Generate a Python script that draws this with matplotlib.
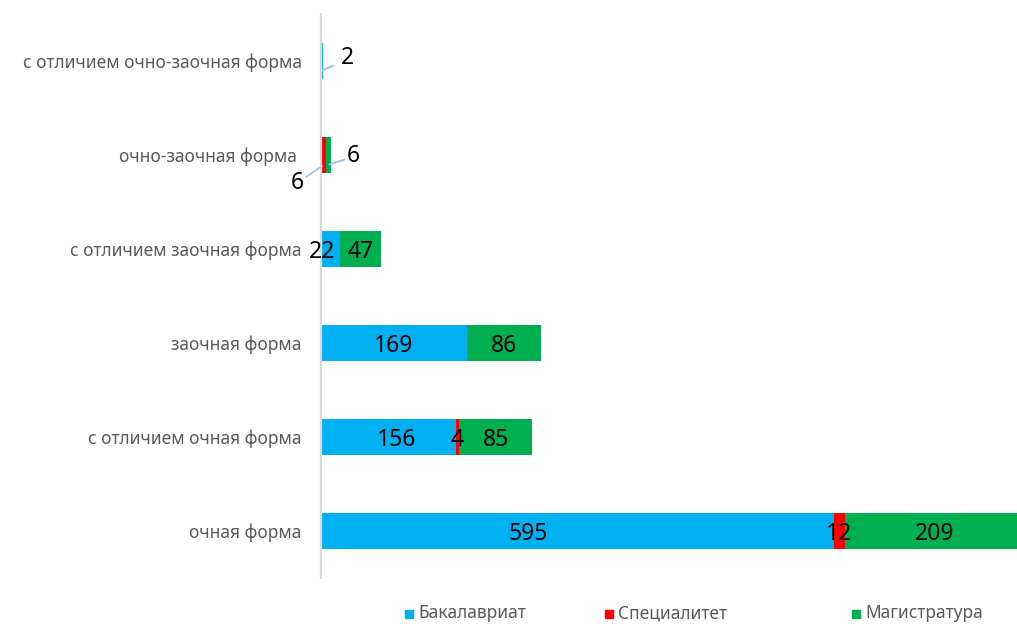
import matplotlib.pyplot as plt
from matplotlib.patches import Rectangle
import numpy as np

plt.rcParams['font.family'] = ['Noto Sans', 'DejaVu Sans']

# data (bottom to top)
categories = ["очная форма", "с отличием очная форма", "заочная форма",
              "с отличием заочная форма", "очно-заочная форма ",
              "с отличием очно-заочная форма"]
bachelor = [595, 156, 169, 22, 0, 2]
specialist = [12, 4, 0, 0, 6, 0]
master = [209, 85, 86, 47, 6, 0]

series_names = ["Бакалавриат", "Специалитет", "Магистратура"]
colors = ["#00B0F0", "#FF0000", "#00B050"]

# label nudges (data units) to mimic where Excel put them
label_shift = {(0, 0): -57, (0, 1): 10, (0, 3): -10}

fig = plt.figure(figsize=(10.17, 6.24), dpi=100)
ax = fig.add_axes([321 / 1017, 46 / 624, 1 - 321 / 1017, 564 / 624])

y = np.arange(len(categories))
left = np.zeros(len(categories))
bars = []
for k, (vals, c, name) in enumerate(zip([bachelor, specialist, master], colors, series_names)):
    vals = np.array(vals, dtype=float)
    b = ax.barh(y, vals, left=left, height=0.39, color=c, label=name, zorder=2)
    bars.append(b)
    for i, v in enumerate(vals):
        if v > 0 and i < 4:
            ax.text(left[i] + v / 2 + label_shift.get((k, i), 0), y[i] - 0.03,
                    f"{int(v)}", ha="center", va="center", fontsize=16.5,
                    color="black", zorder=4)
    left += vals

# labels with leader lines for the tiny bars
lc = "#9DC3E6"
ax.plot([1.5, 14], [4.9, 4.95], color=lc, lw=1.3, clip_on=False, zorder=3)
ax.text(31, 5.03, "2", fontsize=16.5, ha="center", va="center")
ax.plot([10, 27], [3.9, 3.95], color=lc, lw=1.3, clip_on=False, zorder=3)
ax.text(37, 3.99, "6", fontsize=16.5, ha="center", va="center")
ax.plot([1, -17], [3.88, 3.77], color=lc, lw=1.3, clip_on=False, zorder=3)
ax.text(-27, 3.7, "6", fontsize=16.5, ha="center", va="center")

ax.set_xlim(0, 807)
ax.set_ylim(-0.5, 5.5)
ax.set_yticks(y)
ax.set_yticklabels(categories, fontsize=12.5, color="#595959")
ax.tick_params(axis="y", length=0, pad=14)
ax.set_xticks([])
for s in ["top", "right", "bottom"]:
    ax.spines[s].set_visible(False)
ax.spines["left"].set_color("#D9D9D9")
ax.spines["left"].set_linewidth(1.6)
ax.spines["left"].set_zorder(3)

# legend along the bottom edge
leg_x = [405, 605, 852]
for xp, c, name in zip(leg_x, colors, series_names):
    fig.patches.append(Rectangle((xp / 1017, (624 - 618) / 624), 8 / 1017, 8 / 624,
                                 transform=fig.transFigure, color=c))
    fig.text((xp + 13) / 1017, (624 - 613) / 624, name, fontsize=12.5,
             color="#595959", ha="left", va="center")

fig.savefig("out.png", dpi=100)
